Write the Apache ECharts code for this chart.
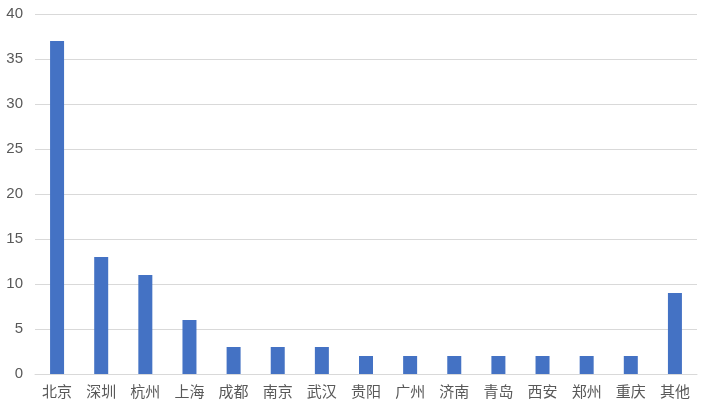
<!DOCTYPE html>
<html><head><meta charset="utf-8">
<script src="https://cdn.jsdelivr.net/npm/echarts@6/dist/echarts.min.js"></script>
<style>html,body{margin:0;padding:0;background:#fff}#c{width:706px;height:409px}</style>
</head><body><div id="c"></div>
<script>
const categories = ['北京','深圳','杭州','上海','成都','南京','武汉','贵阳','广州','济南','青岛','西安','郑州','重庆','其他'];
const values = [37,13,11,6,3,3,3,2,2,2,2,2,2,2,9];
const chart = echarts.init(document.getElementById('c'));
chart.setOption({
  animation:false,
  grid:{left:35,right:9,top:14,bottom:35,containLabel:false},
  xAxis:{type:'category',data:categories,
    axisLine:{lineStyle:{color:'#d9d9d9',width:1}},axisTick:{show:false},
    axisLabel:{color:'#595959',fontSize:15,margin:10,fontFamily:'Noto Sans CJK SC',interval:0}},
  yAxis:{type:'value',min:0,max:40,interval:5,
    axisLine:{show:false},axisTick:{show:false},
    splitLine:{lineStyle:{color:'#d9d9d9',width:1}},
    axisLabel:{color:'#595959',fontSize:15,margin:12,fontFamily:'Liberation Sans'}},
  series:[{type:'bar',data:values,barWidth:14,itemStyle:{color:'#4472C4'}}]
});
</script></body></html>
